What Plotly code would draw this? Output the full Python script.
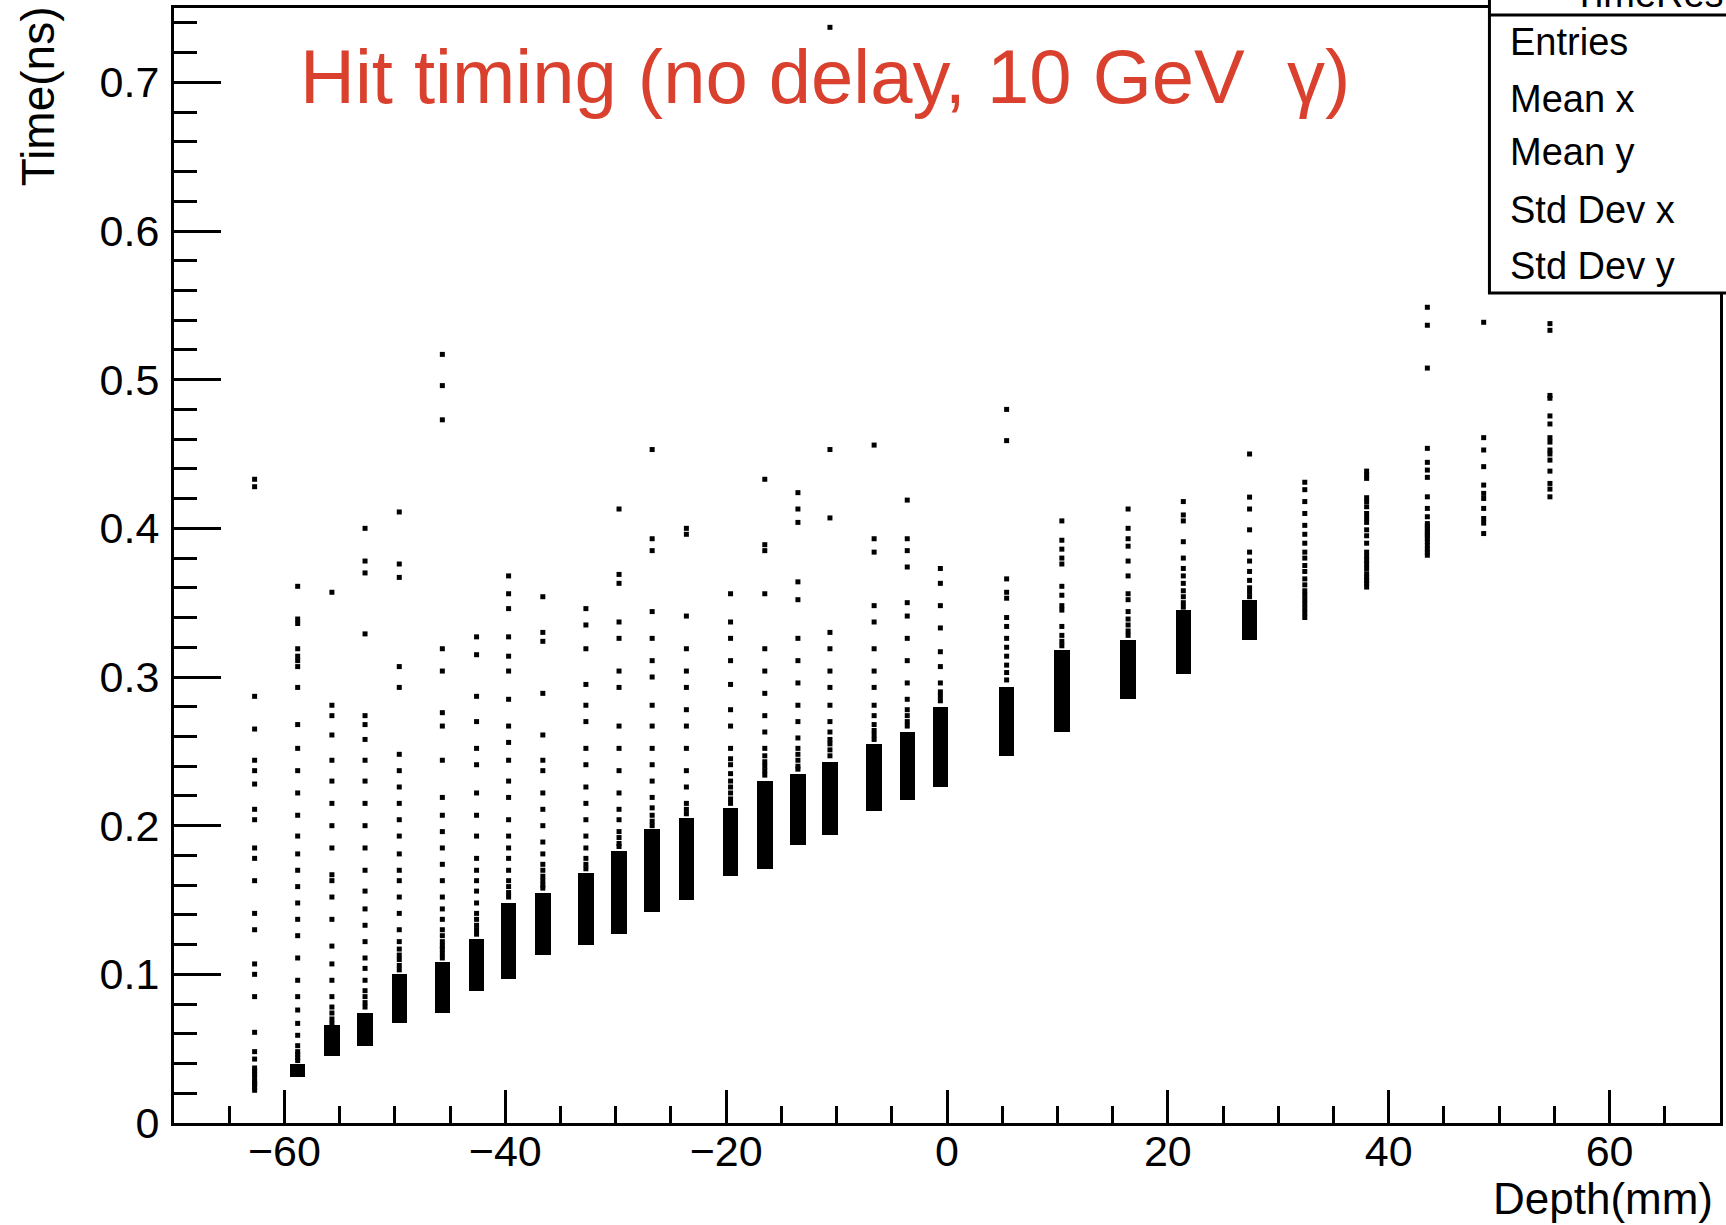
import plotly.graph_objects as go

# ---- data ----
depth_mm = [-62.7, -58.8, -55.7, -52.7, -49.6, -45.7, -42.6, -39.7, -36.6, -32.7,
            -29.7, -26.7, -23.6, -19.6, -16.5, -13.5, -10.6, -6.6, -3.6, -0.6,
            5.4, 10.4, 16.4, 21.4, 27.4, 32.4, 38.0, 43.5, 48.6, 54.6]

# dense core of hits in each layer (lower / upper time, ns); None = no solid core
core_lo = [None, 0.031, 0.045, 0.052, 0.067, 0.074, 0.089, 0.097, 0.113, 0.120,
           0.127, 0.142, 0.150, 0.166, 0.171, 0.187, 0.194, 0.210, 0.217, 0.226,
           0.247, 0.263, 0.285, 0.302, 0.325, None, None, None, None, None]
core_hi = [None, 0.040, 0.066, 0.074, 0.100, 0.108, 0.124, 0.148, 0.155, 0.168,
           0.183, 0.198, 0.205, 0.212, 0.230, 0.235, 0.243, 0.255, 0.263, 0.280,
           0.293, 0.318, 0.325, 0.345, 0.352, None, None, None, None, None]

# individual hits outside the dense core (ns)
hit_time_ns = [
    [0.433, 0.428, 0.287, 0.265, 0.244, 0.237, 0.228, 0.211, 0.204, 0.185, 0.178, 0.163,
     0.141, 0.130, 0.107, 0.100, 0.085, 0.061, 0.048, 0.043, 0.037, 0.035, 0.033, 0.031,
     0.028, 0.027, 0.026, 0.024, 0.022],
    [0.361, 0.339, 0.336, 0.319, 0.314, 0.311, 0.307, 0.293, 0.268, 0.252, 0.237, 0.222,
     0.207, 0.193, 0.181, 0.170, 0.159, 0.148, 0.137, 0.126, 0.111, 0.096, 0.085, 0.076,
     0.067, 0.059, 0.052, 0.048, 0.046, 0.044, 0.042],
    [0.357, 0.281, 0.274, 0.261, 0.244, 0.230, 0.215, 0.200, 0.185, 0.167, 0.163, 0.152,
     0.137, 0.119, 0.107, 0.096, 0.085, 0.078, 0.074, 0.070, 0.067],
    [0.400, 0.378, 0.370, 0.329, 0.274, 0.268, 0.258, 0.244, 0.230, 0.215, 0.200, 0.185,
     0.170, 0.156, 0.144, 0.133, 0.122, 0.111, 0.104, 0.096, 0.089, 0.085, 0.081, 0.078],
    [0.411, 0.376, 0.367, 0.307, 0.293, 0.248, 0.237, 0.226, 0.215, 0.204, 0.193, 0.181,
     0.170, 0.163, 0.152, 0.141, 0.130, 0.122, 0.117, 0.113, 0.110, 0.106, 0.103],
    [0.517, 0.496, 0.473, 0.319, 0.304, 0.276, 0.267, 0.244, 0.219, 0.207, 0.196, 0.185,
     0.174, 0.163, 0.152, 0.144, 0.137, 0.130, 0.126, 0.122, 0.119, 0.117, 0.114, 0.111],
    [0.327, 0.315, 0.287, 0.270, 0.252, 0.241, 0.222, 0.207, 0.193, 0.178, 0.170, 0.163,
     0.156, 0.148, 0.141, 0.137, 0.133, 0.130, 0.127],
    [0.368, 0.356, 0.346, 0.327, 0.314, 0.304, 0.285, 0.267, 0.256, 0.244, 0.230, 0.219,
     0.204, 0.193, 0.185, 0.178, 0.170, 0.163, 0.159, 0.155, 0.152],
    [0.354, 0.330, 0.324, 0.289, 0.261, 0.244, 0.237, 0.222, 0.211, 0.200, 0.189, 0.181,
     0.174, 0.170, 0.166, 0.163, 0.160, 0.158],
    [0.346, 0.335, 0.319, 0.295, 0.281, 0.270, 0.252, 0.241, 0.226, 0.215, 0.204, 0.193,
     0.185, 0.178, 0.174, 0.171],
    [0.413, 0.369, 0.363, 0.337, 0.326, 0.304, 0.293, 0.267, 0.252, 0.237, 0.222, 0.211,
     0.204, 0.196, 0.192, 0.188, 0.186],
    [0.453, 0.393, 0.385, 0.344, 0.326, 0.311, 0.300, 0.281, 0.267, 0.252, 0.241, 0.230,
     0.219, 0.212, 0.207, 0.203, 0.200],
    [0.400, 0.396, 0.341, 0.319, 0.304, 0.293, 0.278, 0.267, 0.252, 0.237, 0.226, 0.215,
     0.211, 0.208],
    [0.356, 0.337, 0.326, 0.311, 0.295, 0.278, 0.267, 0.252, 0.245, 0.241, 0.235, 0.230,
     0.226, 0.222, 0.218, 0.215],
    [0.433, 0.389, 0.385, 0.356, 0.319, 0.304, 0.289, 0.274, 0.263, 0.252, 0.247, 0.243,
     0.240, 0.237, 0.234],
    [0.424, 0.413, 0.404, 0.364, 0.352, 0.326, 0.311, 0.296, 0.281, 0.270, 0.259, 0.252,
     0.248, 0.244, 0.240, 0.238],
    [0.737, 0.453, 0.407, 0.330, 0.319, 0.304, 0.293, 0.281, 0.270, 0.263, 0.258, 0.255,
     0.251, 0.247],
    [0.456, 0.393, 0.384, 0.348, 0.337, 0.319, 0.304, 0.293, 0.281, 0.274, 0.268, 0.264,
     0.261, 0.258],
    [0.419, 0.393, 0.385, 0.374, 0.350, 0.341, 0.326, 0.311, 0.296, 0.285, 0.278, 0.274,
     0.270, 0.267],
    [0.373, 0.363, 0.348, 0.333, 0.317, 0.307, 0.296, 0.290, 0.287, 0.284],
    [0.480, 0.459, 0.366, 0.357, 0.353, 0.340, 0.334, 0.326, 0.320, 0.314, 0.308, 0.303,
     0.298],
    [0.405, 0.392, 0.386, 0.380, 0.376, 0.361, 0.355, 0.348, 0.345, 0.334, 0.328, 0.324,
     0.321],
    [0.413, 0.400, 0.393, 0.388, 0.378, 0.368, 0.356, 0.352, 0.344, 0.339, 0.335, 0.331,
     0.328],
    [0.418, 0.409, 0.405, 0.391, 0.380, 0.373, 0.368, 0.363, 0.358, 0.354, 0.350, 0.347],
    [0.450, 0.421, 0.413, 0.399, 0.384, 0.378, 0.371, 0.365, 0.360, 0.357, 0.354],
    [0.431, 0.426, 0.418, 0.410, 0.402, 0.396, 0.390, 0.384, 0.380, 0.375, 0.371, 0.366,
     0.362, 0.358, 0.355, 0.352, 0.349, 0.346, 0.343, 0.340],
    [0.4385, 0.436, 0.4336, 0.4206, 0.418, 0.4145, 0.410, 0.407, 0.404, 0.399, 0.395,
     0.390, 0.384, 0.381, 0.3785, 0.376, 0.373, 0.3695, 0.367, 0.365, 0.363, 0.3605],
    [0.5487, 0.5366, 0.5078, 0.4538, 0.4444, 0.4392, 0.4343, 0.4212, 0.4134, 0.4078,
     0.4032, 0.4015, 0.3999, 0.398, 0.3965, 0.395, 0.3931, 0.391, 0.3886, 0.386, 0.384,
     0.3819],
    [0.5386, 0.461, 0.4527, 0.4415, 0.4291, 0.4235, 0.4201, 0.4134, 0.4066, 0.4035,
     0.3965],
    [0.5377, 0.5332, 0.4894, 0.4875, 0.4756, 0.4702, 0.461, 0.458, 0.4527, 0.4500,
     0.4459, 0.4385, 0.4302, 0.4264, 0.4212],
]

stat_labels = ["Entries", "Mean x", "Mean y", "Std Dev x", "Std Dev y"]
title_text = "Hit timing (no delay, 10 GeV\u00a0 \u03b3)"

# ---- build traces ----
pts_x, pts_y = [], []
for d, ys in zip(depth_mm, hit_time_ns):
    pts_x += [d] * len(ys)
    pts_y += ys

bar_x, bar_base, bar_h = [], [], []
for d, lo, hi in zip(depth_mm, core_lo, core_hi):
    if lo is not None:
        bar_x.append(d)
        bar_base.append(lo)
        bar_h.append(hi - lo)

FONT = "Liberation Sans, Arial, Helvetica, sans-serif"

fig = go.Figure()
fig.add_trace(go.Bar(x=bar_x, y=bar_h, base=bar_base, width=1.4,
                     marker=dict(color="black", line=dict(width=0)),
                     hoverinfo="skip", showlegend=False))
fig.add_trace(go.Scatter(x=pts_x, y=pts_y, mode="markers",
                         marker=dict(symbol="square", size=5, color="black",
                                     line=dict(width=0)),
                         showlegend=False))

W, H = 1726, 1225
L, R, T, B = 174, 3, 8, 102
pw, ph = W - L - R, H - T - B


def px(xp):
    return (xp - L) / pw


def py(yp):
    return (H - B - yp) / ph


annotations = [
    dict(text=title_text, x=px(298), y=py(77), xref="paper", yref="paper",
         xanchor="left", yanchor="middle", showarrow=False,
         font=dict(family=FONT, size=76, color="#d9402e")),
    dict(text="Time(ns)", x=px(38), y=py(4), xref="paper", yref="paper",
         xanchor="center", yanchor="top", textangle=-90, showarrow=False,
         font=dict(family=FONT, size=46, color="black")),
    dict(text="Depth(mm)", x=px(1718), y=py(1198), xref="paper", yref="paper",
         xanchor="right", yanchor="middle", showarrow=False,
         font=dict(family=FONT, size=44, color="black")),
    dict(text="TimeRes", x=px(1574), y=py(-6), xref="paper", yref="paper",
         xanchor="left", yanchor="middle", showarrow=False,
         font=dict(family=FONT, size=38, color="black")),
]
for lab, yc in zip(stat_labels, [42, 99, 152, 210, 266]):
    annotations.append(dict(text=lab, x=px(1511), y=py(yc), xref="paper", yref="paper",
                            xanchor="left", yanchor="middle", showarrow=False,
                            font=dict(family=FONT, size=38, color="black")))

shapes = [
    dict(type="rect", xref="paper", yref="paper", x0=px(1492), x1=px(1740),
         y0=py(293), y1=py(-20), line=dict(color="black", width=3),
         fillcolor="white", layer="above"),
    dict(type="line", xref="paper", yref="paper", x0=px(1492), x1=px(1740),
         y0=py(15), y1=py(15), line=dict(color="black", width=3), layer="above"),
]

fig.update_layout(
    width=W, height=H,
    margin=dict(l=L, r=R, t=T, b=B, pad=0),
    paper_bgcolor="white", plot_bgcolor="white",
    barmode="overlay", bargap=0,
    font=dict(family=FONT, color="black"),
    annotations=annotations, shapes=shapes,
    xaxis=dict(range=[-70, 70], tick0=0, dtick=20, ticks="inside", ticklen=33,
               tickwidth=3, tickcolor="black", showline=True, linewidth=3,
               linecolor="black", mirror=True, showgrid=False, zeroline=False,
               tickfont=dict(family=FONT, size=43, color="black"),
               ticklabelstandoff=-12,
               minor=dict(tick0=0, dtick=5, ticks="inside", ticklen=17,
                          tickwidth=3, tickcolor="black", showgrid=False)),
    yaxis=dict(range=[0, 0.75], tick0=0, dtick=0.1, ticks="inside", ticklen=47,
               tickwidth=3, tickcolor="black", showline=True, linewidth=3,
               linecolor="black", mirror=True, showgrid=False, zeroline=False,
               tickfont=dict(family=FONT, size=43, color="black"),
               ticklabelstandoff=3,
               minor=dict(tick0=0, dtick=0.02, ticks="inside", ticklen=23,
                          tickwidth=3, tickcolor="black", showgrid=False)),
)

fig.write_html("out.html", config={"displayModeBar": False},
               post_script="document.body.style.margin='0';")
